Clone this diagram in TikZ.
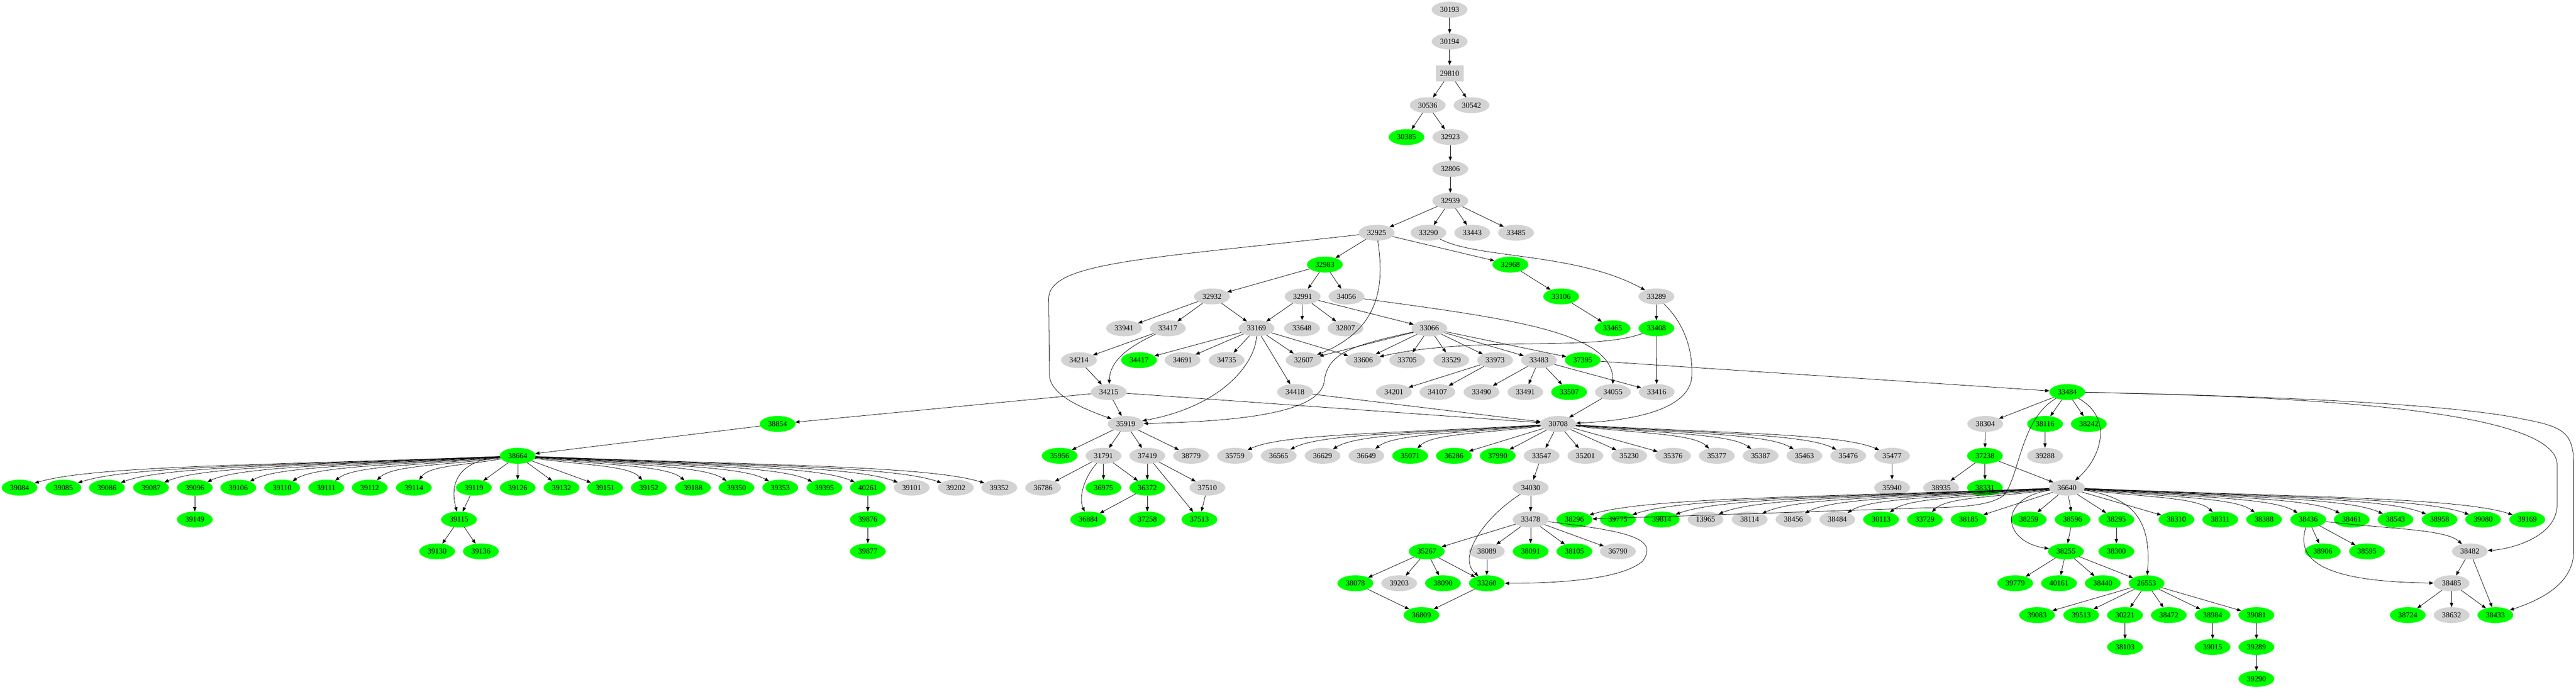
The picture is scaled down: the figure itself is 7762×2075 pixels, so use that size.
\documentclass[tikz,border=0pt]{standalone}
\usepackage{fontspec}
\setmainfont{Liberation Serif}
\usetikzlibrary{shapes.geometric,arrows.meta,calc}
\definecolor{lgray}{HTML}{D3D3D3}
\definecolor{vgreen}{HTML}{00FF00}
\tikzset{
 nbase/.style={ellipse, minimum width=108pt, minimum height=48pt, inner sep=0pt, font=\fontsize{23}{28}\selectfont},
 ngray/.style={nbase, fill=lgray},
 ngreen/.style={nbase, fill=vgreen},
 nbox/.style={rectangle, minimum width=84pt, minimum height=49pt, inner sep=0pt, fill=lgray, font=\fontsize{23}{28}\selectfont},
 myedge/.style={line width=1.2pt, -{Triangle[length=13pt,width=10pt]}},
}
\newcommand{\ngy}[3]{\node[ngray] (n#1) at (#2,{29+96*#3}) {#1};}
\newcommand{\ngr}[3]{\node[ngreen] (n#1) at (#2,{29+96*#3}) {#1};}
\newcommand{\myse}[2]{\draw[myedge] (n#1) -- (n#2);}
\newcommand{\myfe}[2]{\draw[myedge] let \p1=(n#1), \p2=(n#2) in (n#1) .. controls ({0.5*\x1+0.5*\x2},{\y1+0.3*(\y2-\y1)}) and ({\x2+0.15*(\x1-\x2)},{\y2+0.7*(\y1-\y2)}) .. (n#2);}
\begin{document}
\begin{tikzpicture}[x=1pt,y=-1pt]
\fill[white] (0,0) rectangle (7762,2075);
\useasboundingbox (0,0) rectangle (7762,2075);
% rank 0-6
\ngy{30193}{4368}{0}
\ngy{30194}{4368}{1}
\node[nbox] (n29810) at (4368,221) {29810};
\ngy{30536}{4302}{3} \ngy{30542}{4434}{3}
\ngr{30385}{4238}{4} \ngy{32923}{4370}{4}
\ngy{32806}{4370}{5}
\ngy{32939}{4370}{6}
% rank 7
\ngy{32925}{4148}{7} \ngy{33290}{4304}{7} \ngy{33443}{4436}{7} \ngy{33485}{4568}{7}
% rank 8
\ngr{32983}{3992}{8} \ngr{32968}{4551}{8}
% rank 9
\ngy{32932}{3652}{9} \ngy{32991}{3925}{9} \ngy{34056}{4057}{9} \ngr{33106}{4704}{9} \ngy{33289}{4991}{9}
% rank 10
\ngy{33941}{3387}{10} \ngy{33417}{3519}{10} \ngy{33169}{3786}{10} \ngy{33648}{3923}{10} \ngy{32807}{4054}{10}
\ngy{33066}{4307}{10} \ngr{33465}{4859}{10} \ngr{33408}{4991}{10}
% rank 11
\ngy{34214}{3251}{11} \ngr{34417}{3432}{11} \ngy{34691}{3563}{11} \ngy{34735}{3696}{11} \ngy{32607}{3928}{11}
\ngy{33606}{4108}{11} \ngy{33705}{4240}{11} \ngy{33529}{4373}{11} \ngy{33973}{4505}{11} \ngy{33483}{4637}{11}
\ngr{37395}{4769}{11}
% rank 12
\ngy{34215}{3341}{12} \ngy{34418}{3902}{12} \ngy{34201}{4200}{12} \ngy{34107}{4331}{12} \ngy{33490}{4464}{12}
\ngy{33491}{4596}{12} \ngr{33507}{4728}{12} \ngy{34055}{4860}{12} \ngy{33416}{4992}{12} \ngr{33484}{6229}{12}
% rank 13
\ngr{38854}{2343}{13} \ngy{35919}{3392}{13} \ngy{30708}{4695}{13} \ngy{38304}{5982}{13} \ngr{38116}{6162}{13} \ngr{38242}{6294}{13}
% rank 14
\ngr{38664}{1560}{14} \ngr{35956}{3193}{14} \ngy{31791}{3325}{14} \ngy{37419}{3457}{14} \ngy{38779}{3589}{14}
\ngy{35759}{3721}{14} \ngy{36565}{3853}{14} \ngy{36629}{3985}{14} \ngy{36649}{4117}{14} \ngr{35071}{4249}{14}
\ngr{36286}{4381}{14} \ngr{37990}{4513}{14} \ngy{33547}{4645}{14} \ngy{35201}{4777}{14} \ngy{35230}{4909}{14}
\ngy{35376}{5041}{14} \ngy{35377}{5173}{14} \ngy{35387}{5305}{14} \ngy{35463}{5437}{14} \ngy{35476}{5569}{14}
\ngy{35477}{5701}{14} \ngr{37238}{5981}{14} \ngy{39288}{6162}{14}
% rank 15
\ngr{39084}{59}{15} \ngr{39085}{191}{15} \ngr{39086}{322}{15} \ngr{39087}{455}{15} \ngr{39096}{587}{15}
\ngr{39106}{718}{15} \ngr{39110}{850}{15} \ngr{39111}{983}{15} \ngr{39112}{1114}{15} \ngr{39114}{1247}{15}
\ngr{39119}{1428}{15} \ngr{39126}{1560}{15} \ngr{39132}{1692}{15} \ngr{39151}{1823}{15} \ngr{39152}{1955}{15}
\ngr{39188}{2088}{15} \ngr{39350}{2219}{15} \ngr{39353}{2351}{15} \ngr{39395}{2484}{15} \ngr{40261}{2615}{15}
\ngy{39101}{2747}{15} \ngy{39202}{2880}{15} \ngy{39352}{3011}{15} \ngy{36786}{3143}{15} \ngr{36975}{3325}{15}
\ngr{36372}{3457}{15} \ngy{37510}{3638}{15} \ngy{34030}{4612}{15} \ngy{35940}{5701}{15} \ngy{38935}{5849}{15}
\ngr{38331}{5981}{15} \ngy{36640}{6228}{15}
% rank 16
\ngr{39149}{587}{16} \ngr{39115}{1383}{16} \ngr{39876}{2615}{16} \ngr{36884}{3279}{16} \ngr{37258}{3457}{16}
\ngr{37513}{3614}{16} \ngy{33478}{4612}{16} \ngr{38296}{4744}{16} \ngr{39775}{4875}{16} \ngr{39814}{5007}{16}
\ngy{13965}{5139}{16} \ngy{38114}{5272}{16} \ngy{38456}{5404}{16} \ngy{38484}{5536}{16} \ngr{30113}{5668}{16}
\ngr{33729}{5800}{16} \ngr{38185}{5932}{16} \ngr{38259}{6113}{16} \ngr{38596}{6245}{16} \ngr{38295}{6377}{16}
\ngr{38310}{6558}{16} \ngr{38311}{6690}{16} \ngr{38388}{6822}{16} \ngr{38436}{6955}{16} \ngr{38461}{7086}{16}
\ngr{38543}{7218}{16} \ngr{38958}{7351}{16} \ngr{39080}{7482}{16} \ngr{39169}{7615}{16}
% rank 17
\ngr{39130}{1317}{17} \ngr{39136}{1449}{17} \ngr{39877}{2615}{17} \ngr{35267}{4299}{17} \ngy{38089}{4480}{17}
\ngr{38091}{4612}{17} \ngr{38105}{4744}{17} \ngy{36790}{4875}{17} \ngr{38255}{6225}{17} \ngr{38300}{6377}{17}
\ngr{38906}{6999}{17} \ngr{38595}{7132}{17} \ngy{38482}{7442}{17}
% rank 18
\ngr{38078}{4084}{18} \ngy{39203}{4216}{18} \ngr{38090}{4348}{18} \ngr{33260}{4480}{18} \ngr{39779}{6072}{18}
\ngr{40161}{6204}{18} \ngr{38440}{6336}{18} \ngr{26553}{6468}{18} \ngy{38485}{7387}{18}
% rank 19
\ngr{36809}{4283}{19} \ngr{39083}{6138}{19} \ngr{39513}{6271}{19} \ngr{30221}{6403}{19} \ngr{38472}{6535}{19}
\ngr{38984}{6667}{19} \ngr{39081}{6799}{19} \ngr{38724}{7255}{19} \ngy{38632}{7387}{19} \ngr{38433}{7519}{19}
% rank 20-21
\ngr{38103}{6403}{20} \ngr{39015}{6667}{20} \ngr{39289}{6799}{20}
\ngr{39290}{6799}{21}

% straight edges
\myse{30193}{30194} \myse{30194}{29810} \myse{29810}{30536} \myse{29810}{30542}
\myse{30536}{30385} \myse{30536}{32923} \myse{32923}{32806} \myse{32806}{32939}
\myse{32939}{32925} \myse{32939}{33290} \myse{32939}{33443} \myse{32939}{33485}
\myse{32925}{32983} \myse{32925}{32968}
\myse{32983}{32932} \myse{32983}{32991} \myse{32983}{34056}
\myse{32968}{33106} \myse{33106}{33465} \myse{33289}{33408}
\myse{32932}{33941} \myse{32932}{33417} \myse{32932}{33169}
\myse{32991}{33169} \myse{32991}{33648} \myse{32991}{32807} \myse{32991}{33066}
\myse{33417}{34214}
\myse{33169}{34417} \myse{33169}{34691} \myse{33169}{34735} \myse{33169}{32607} \myse{33169}{33606} \myse{33169}{34418}
\myse{33066}{32607} \myse{33066}{33606} \myse{33066}{33705} \myse{33066}{33529} \myse{33066}{33973} \myse{33066}{33483} \myse{33066}{37395}
\myse{33408}{33416}
\myse{33973}{34201} \myse{33973}{34107}
\myse{33483}{33490} \myse{33483}{33491} \myse{33483}{33507} \myse{33483}{33416}
\myse{37395}{33484} \myse{34214}{34215}
\myse{34215}{35919} \myse{34215}{38854} \myse{34215}{30708}
\myse{34418}{30708} \myse{34055}{30708} \myse{38854}{38664}
\myse{38664}{39119} \myse{38664}{39126} \myse{38664}{39132} \myse{38664}{39151}
\myse{39119}{39115} \myse{39096}{39149} \myse{39115}{39130} \myse{39115}{39136} \myse{40261}{39876} \myse{39876}{39877}
\myse{35919}{35956} \myse{35919}{31791} \myse{35919}{37419} \myse{35919}{38779}
\myse{31791}{36786} \myse{31791}{36975} \myse{31791}{36372}
\myse{37419}{36372} \myse{37419}{37510} \myse{37419}{37513}
\myse{36372}{36884} \myse{36372}{37258} \myse{37510}{37513}
\myse{30708}{36286} \myse{30708}{37990} \myse{30708}{33547} \myse{30708}{35201} \myse{30708}{35230} \myse{30708}{35376}
\myse{33547}{34030} \myse{34030}{33478}
\myse{33478}{38089} \myse{33478}{38091} \myse{33478}{38105} \myse{33478}{36790} \myse{33478}{35267}
\myse{38089}{33260}
\myse{35267}{38078} \myse{35267}{39203} \myse{35267}{38090} \myse{35267}{33260}
\myse{38078}{36809} \myse{33260}{36809} \myse{35477}{35940}
\myse{33484}{38304} \myse{33484}{38116} \myse{33484}{38242}
\myse{38304}{37238} \myse{38116}{39288}
\myse{37238}{38935} \myse{37238}{38331} \myse{37238}{36640}
\myse{36640}{38185} \myse{36640}{38259} \myse{36640}{38596} \myse{36640}{38295} \myse{36640}{38310}
\myse{38596}{38255} \myse{38295}{38300}
\myse{38255}{39779} \myse{38255}{40161} \myse{38255}{38440} \myse{38255}{26553}
\myse{26553}{39083} \myse{26553}{39513} \myse{26553}{30221} \myse{26553}{38472} \myse{26553}{38984} \myse{26553}{39081}
\myse{30221}{38103} \myse{38984}{39015} \myse{39081}{39289} \myse{39289}{39290}
\myse{38436}{38906} \myse{38436}{38595}
\myse{38482}{38485} \myse{38482}{38433}
\myse{38485}{38724} \myse{38485}{38632} \myse{38485}{38433}

% fan edges
\foreach \t in {39084,39085,39086,39087,39096,39106,39110,39111,39112,39114,39152,39188,39350,39353,39395,40261,39101,39202,39352}{\myfe{38664}{\t}}
\foreach \t in {35759,36565,36629,36649,35071,35377,35387,35463,35476,35477}{\myfe{30708}{\t}}
\foreach \t in {38296,39775,39814,13965,38114,38456,38484,30113,33729,38311,38388,38436,38461,38543,38958,39080,39169}{\myfe{36640}{\t}}
\myfe{38436}{38482}

% routed edges
\draw[myedge] (n32925) .. controls (3450,780) and (3160,790) .. (3160,900) -- (3162,1130) .. controls (3165,1190) and (3260,1230) .. (n35919);
\draw[myedge] (n32925) .. controls (4170,850) and (4165,990) .. (n32607);
\draw[myedge] (n33290) .. controls (4450,780) and (4750,760) .. (n33289);
\draw[myedge] (n33289) .. controls (5080,980) and (5100,1060) .. (5098,1130) .. controls (5095,1240) and (4900,1268) .. (n30708);
\draw[myedge] (n34056) .. controls (4550,960) and (4860,1000) .. (n34055);
\draw[myedge] (n33417) .. controls (3390,1050) and (3345,1090) .. (n34215);
\draw[myedge] (n33169) .. controls (3785,1080) and (3700,1220) .. (n35919);
\draw[myedge] (n33066) .. controls (4080,1040) and (4000,1060) .. (3990,1150) .. controls (3975,1250) and (3700,1270) .. (n35919);
\draw[myedge] (n33408) .. controls (4800,1060) and (4450,1010) .. (n33606);
\draw[myedge] (n38664) .. controls (1400,1385) and (1350,1440) .. (n39115);
\draw[myedge] (n31791) .. controls (3265,1440) and (3250,1500) .. (n36884);
\draw[myedge] (n34030) .. controls (4470,1560) and (4390,1680) .. (n33260);
\draw[myedge] (n33478) .. controls (4900,1600) and (5000,1620) .. (4950,1690) .. controls (4880,1752) and (4650,1757) .. (n33260);
\draw[myedge] (n33484) .. controls (6090,1260) and (6085,1430) .. (6040,1490) .. controls (6000,1525) and (5900,1528) .. (5800,1530) -- (n38296);
\draw[myedge] (n33484) .. controls (6370,1260) and (6330,1380) .. (n36640);
\draw[myedge] (n33484) .. controls (7000,1195) and (7705,1240) .. (7705,1400) -- (7705,1520) .. controls (7705,1620) and (7560,1655) .. (n38482);
\draw[myedge] (n33484) .. controls (7200,1200) and (7500,1240) .. (7600,1262) .. controls (7720,1285) and (7755,1300) .. (7755,1400) -- (7755,1660) .. controls (7755,1770) and (7630,1815) .. (n38433);
\draw[myedge] (n36640) .. controls (6020,1500) and (6030,1630) .. (n38255);
\draw[myedge] (n36640) .. controls (6440,1500) and (6482,1580) .. (n26553);
\draw[myedge] (n38436) .. controls (6920,1680) and (6980,1752) .. (n38485);
\end{tikzpicture}
\end{document}
